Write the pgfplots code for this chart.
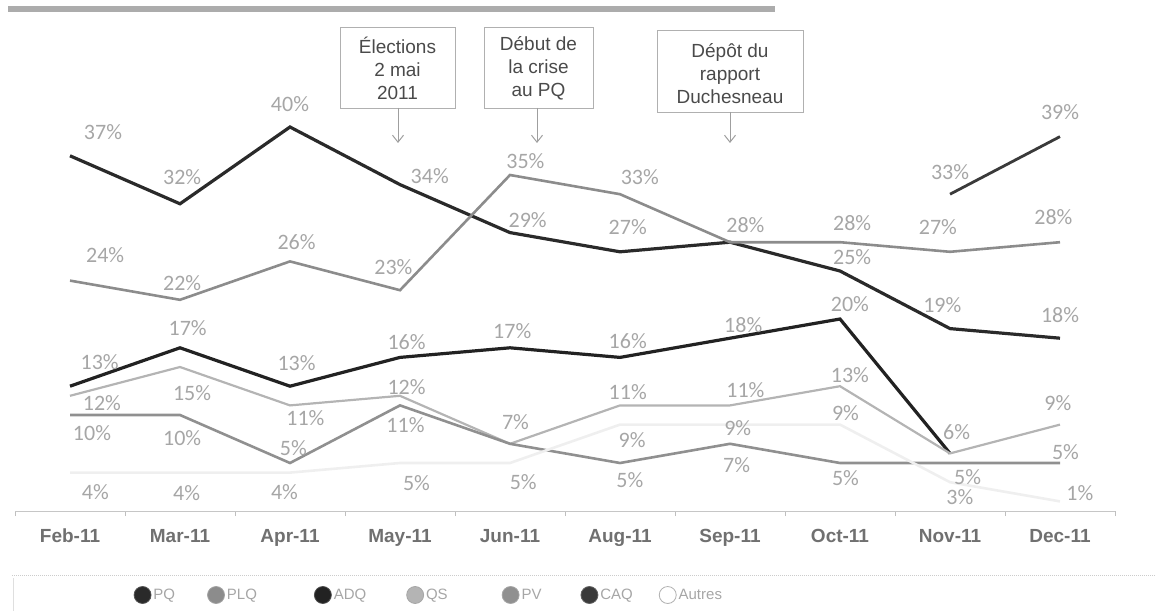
\documentclass[border=0pt]{standalone}
\usepackage{pgfplots}
\pgfplotsset{compat=1.18}
\usepackage{pgfplotstable}
\usepackage{fontspec}
\setmainfont{Liberation Sans}
\newfontfamily\calfont{Carlito}
\usetikzlibrary{arrows.meta}

\definecolor{cPQ}{HTML}{2A2A2A}
\definecolor{cPLQ}{HTML}{8C8C8C}
\definecolor{cADQ}{HTML}{222222}
\definecolor{cQS}{HTML}{B4B4B4}
\definecolor{cPV}{HTML}{909090}
\definecolor{cCAQ}{HTML}{3A3A3A}
\definecolor{cAut}{HTML}{EFEFEF}
\definecolor{lbl}{HTML}{A6A6A6}
\definecolor{tick}{HTML}{707070}
\definecolor{boxtxt}{HTML}{4A4A4A}
\definecolor{boxln}{HTML}{B0B0B0}

\pgfplotstableread{
x v
0 37
1 32
2 40
3 34
4 29
5 27
6 28
7 25
8 19
9 18
}\PQ
\pgfplotstableread{
x v
0 24
1 22
2 26
3 23
4 35
5 33
6 28
7 28
8 27
9 28
}\PLQ
\pgfplotstableread{
x v
0 13
1 17
2 13
3 16
4 17
5 16
6 18
7 20
8 6
}\ADQ
\pgfplotstableread{
x v
0 12
1 15
2 11
3 12
4 7
5 11
6 11
7 13
8 6
9 9
}\QS
\pgfplotstableread{
x v
0 10
1 10
2 5
3 11
4 7
5 5
6 7
7 5
8 5
9 5
}\PV
\pgfplotstableread{
x v
8 33
9 39
}\CAQ
\pgfplotstableread{
x v
0 4
1 4
2 4
3 5
4 5
5 9
6 9
7 9
8 3
9 1
}\Autres
\pgfplotstableread{
lx ly v
0.30 39.5 37
0.32 26.7 24
0.27 15.5 13
0.29 11.25 12
0.20 8.1 10
0.23 2.0 4
1.02 34.8 32
1.02 23.75 22
1.07 19.1 17
1.11 12.3 15
1.02 7.6 10
1.06 1.9 4
2.00 42.4 40
2.06 28.0 26
2.06 15.4 13
2.14 9.7 11
2.03 6.6 5
1.95 2.0 4
3.27 34.9 34
2.94 25.4 23
3.06 17.6 16
3.06 12.9 12
3.05 9.0 11
3.15 2.9 5
4.14 36.4 35
4.16 30.3 29
4.02 18.75 17
4.05 9.3 7
4.12 3.0 5
5.18 34.8 33
5.07 29.6 27
5.07 17.7 16
5.07 12.4 11
5.11 7.4 9
5.09 3.2 5
6.14 29.8 28
6.12 19.4 18
6.14 12.6 11
6.07 8.6 9
6.06 4.8 7
7.11 30.0 28
7.11 26.4 25
7.09 21.6 20
7.09 14.2 13
7.05 10.2 9
7.05 3.4 5
8.00 35.3 33
7.89 29.6 27
7.93 21.5 19
8.06 8.2 6
8.16 3.5 5
8.09 1.5 3
9.00 41.6 39
8.94 30.6 28
9.00 20.4 18
8.98 11.25 9
9.05 6.1 5
9.18 1.9 1
}\Labels

\begin{document}
\begin{tikzpicture}
\path[use as bounding box] (0pt,0pt) rectangle (1155pt,611pt);
% top bar
\fill[gray!65] (8pt,599pt) rectangle (775pt,605pt);
% legend separator
\draw[gray!40, densely dotted, line width=1pt] (12pt,36pt) -- (1155pt,36pt);
\draw[gray!25, line width=0.8pt] (13pt,33pt) -- (13pt,0pt);
\begin{axis}[
  at={(15pt,100pt)}, anchor=south west,
  scale only axis, width=1100pt, height=480pt,
  xmin=-0.5, xmax=9.5, ymin=0, ymax=50,
  clip=false,
  hide y axis,
  axis x line*=bottom,
  x axis line style={color=gray!45, line width=1pt},
  xtick={0,...,9},
  xticklabels={Feb-11,Mar-11,Apr-11,May-11,Jun-11,Aug-11,Sep-11,Oct-11,Nov-11,Dec-11},
  major tick length=0pt,
  minor xtick={-0.5,0.5,...,9.5},
  minor tick length=5pt,
  tick align=outside,
  minor tick style={color=gray!50, line width=0.8pt},
  xticklabel style={font=\bfseries\fontsize{19}{19}\selectfont, text=tick, anchor=base, yshift=-31pt},
  legend columns=-1,
  legend style={at={(0.1077,-0.175)}, anchor=west, draw=none, fill=none, inner sep=0pt,
    font=\fontsize{15}{15}\selectfont, text=lbl,
    /tikz/column 2/.style={column sep=30pt},
    /tikz/column 4/.style={column sep=55pt},
    /tikz/column 6/.style={column sep=38pt},
    /tikz/column 8/.style={column sep=52pt},
    /tikz/column 10/.style={column sep=37pt},
    /tikz/column 12/.style={column sep=24pt}},
  legend image code/.code={\draw[#1, line width=0.8pt] (0pt,0pt) circle (8.5pt);},
]
\addplot[cPQ, line width=3.2pt, forget plot] table[x=x,y=v]{\PQ};
\addplot[cPLQ, line width=2.6pt, forget plot] table[x=x,y=v]{\PLQ};
\addplot[cADQ, line width=3.2pt, forget plot] table[x=x,y=v]{\ADQ};
\addplot[cQS, line width=2.2pt, forget plot] table[x=x,y=v]{\QS};
\addplot[cPV, line width=2.6pt, forget plot] table[x=x,y=v]{\PV};
\addplot[cCAQ, line width=2.8pt, forget plot] table[x=x,y=v]{\CAQ};
\addplot[cAut, line width=2.6pt, forget plot] table[x=x,y=v]{\Autres};
\addplot[draw=none, mark=none, forget plot, point meta=explicit,
  nodes near coords={\pgfmathprintnumber[assume math mode=true]{\pgfplotspointmeta}\%},
  nodes near coords align=center,
  every node near coord/.append style={font=\calfont\fontsize{22}{22}\selectfont, text=lbl, inner sep=0pt}]
  table[x=lx,y=ly,meta=v]{\Labels};
\addlegendimage{draw=cPQ!80, fill=cPQ}
\addlegendentry{PQ}
\addlegendimage{draw=cPLQ!80, fill=cPLQ}
\addlegendentry{PLQ}
\addlegendimage{draw=cADQ!80, fill=cADQ}
\addlegendentry{ADQ}
\addlegendimage{draw=gray!70, fill=cQS}
\addlegendentry{QS}
\addlegendimage{draw=cPV!80, fill=cPV}
\addlegendentry{PV}
\addlegendimage{draw=cCAQ!80, fill=cCAQ}
\addlegendentry{CAQ}
\addlegendimage{draw=gray!60, fill=white}
\addlegendentry{Autres}
\end{axis}
% annotation boxes
\draw[boxln, line width=0.9pt] (340pt,584pt) rectangle (455pt,503pt);
\node[align=center, text=boxtxt, font=\fontsize{19}{23}\selectfont] at (397.5pt,543pt) {Élections\\2 mai\\2011};
\draw[boxln, line width=0.9pt] (484pt,584pt) rectangle (593pt,503pt);
\node[align=center, text=boxtxt, font=\fontsize{19}{23}\selectfont] at (538.5pt,543pt) {Début de\\la crise\\au PQ};
\draw[boxln, line width=0.9pt] (657pt,581pt) rectangle (803pt,499pt);
\node[align=center, text=boxtxt, font=\fontsize{19}{23}\selectfont] at (730pt,537pt) {Dépôt du\\rapport\\Duchesneau};
\draw[gray!75, line width=1pt, -{Straight Barb[length=7pt,width=11pt]}] (398pt,503pt) -- (398pt,468pt);
\draw[gray!75, line width=1pt, -{Straight Barb[length=7pt,width=11pt]}] (537pt,503pt) -- (537pt,468pt);
\draw[gray!75, line width=1pt, -{Straight Barb[length=7pt,width=11pt]}] (730pt,499pt) -- (730pt,468pt);
\end{tikzpicture}
\end{document}
